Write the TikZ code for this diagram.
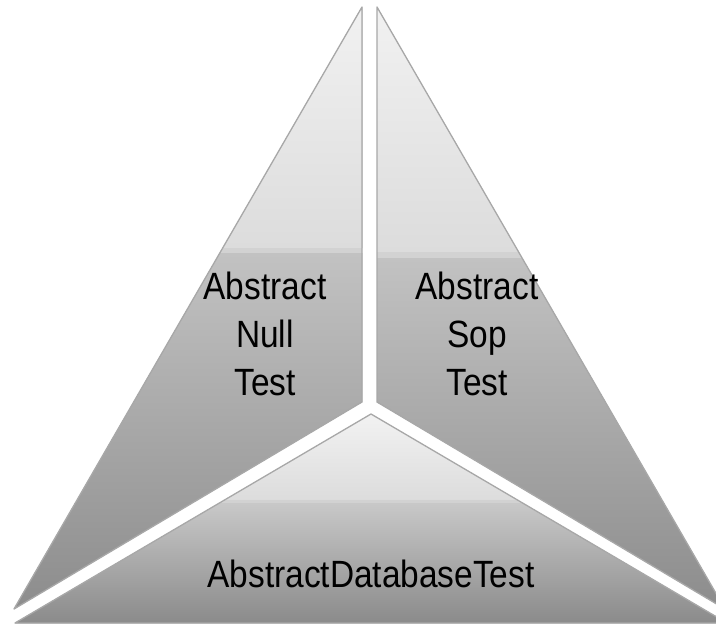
\documentclass[tikz,border=0pt]{standalone}
\usepackage{fontspec}
\setmainfont{Liberation Sans}[FakeStretch=0.88]
\usepackage{tikz}
\usepackage{xcolor}
\definecolor{edge-gray}{HTML}{A8A8A8}
\definecolor{gloss-top}{HTML}{F2F2F2}
\definecolor{gloss-bottom}{HTML}{DCDCDC}
\definecolor{gloss-band}{HTML}{D2D2D2}
\definecolor{body-top}{HTML}{C2C2C2}
\definecolor{body-bottom}{HTML}{8A8A8A}
\tikzset{
    piece-edge/.style = {draw=edge-gray, line width=1.3pt, line join=round},
    piece-gloss/.style = {top color=gloss-top, bottom color=gloss-bottom},
    piece-body/.style = {top color=body-top, bottom color=body-bottom},
    piece-label/.style = {align=center, inner sep=0pt, font=\fontsize{38}{48}\selectfont},
}

\begin{document}
\begin{tikzpicture}[x=1pt, y=-1pt]
\clip (0,0) rectangle (716,624);
\fill[white] (0,0) rectangle (716,624);

\begin{scope}
\clip (362,7) -- (362,402) -- (14,609) -- cycle;
\fill[piece-gloss] (0,0) rectangle (370,248);
\fill[gloss-band] (0,248) rectangle (370,253);
\fill[piece-body] (0,253) rectangle (370,624);
\end{scope}
\draw[piece-edge] (362,7) -- (362,402) -- (14,609) -- cycle;

\begin{scope}
\clip (377,7) -- (377,402) -- (725,609) -- cycle;
\fill[piece-gloss] (370,0) rectangle (730,252);
\fill[gloss-band] (370,252) rectangle (730,258);
\fill[piece-body] (370,258) rectangle (730,624);
\end{scope}
\draw[piece-edge] (377,7) -- (377,402) -- (725,609) -- cycle;

\begin{scope}
\clip (371,414) -- (15,623) -- (727,623) -- cycle;
\fill[piece-gloss] (0,414) rectangle (730,500);
\fill[gloss-band] (0,500) rectangle (730,503);
\fill[top color=body-top!90!white, bottom color=body-bottom] (0,503) rectangle (730,624);
\end{scope}
\draw[piece-edge] (371,414) -- (15,623) -- (727,623) -- cycle;

\node[piece-label] (null-test) at (265,334) {Abstract\\Null\\Test};
\node[piece-label] (sop-test) at (477,334) {Abstract\\Sop\\Test};
\node[piece-label, anchor=base] (database-test) at (371,587) {AbstractDatabaseTest};
\end{tikzpicture}
\end{document}
